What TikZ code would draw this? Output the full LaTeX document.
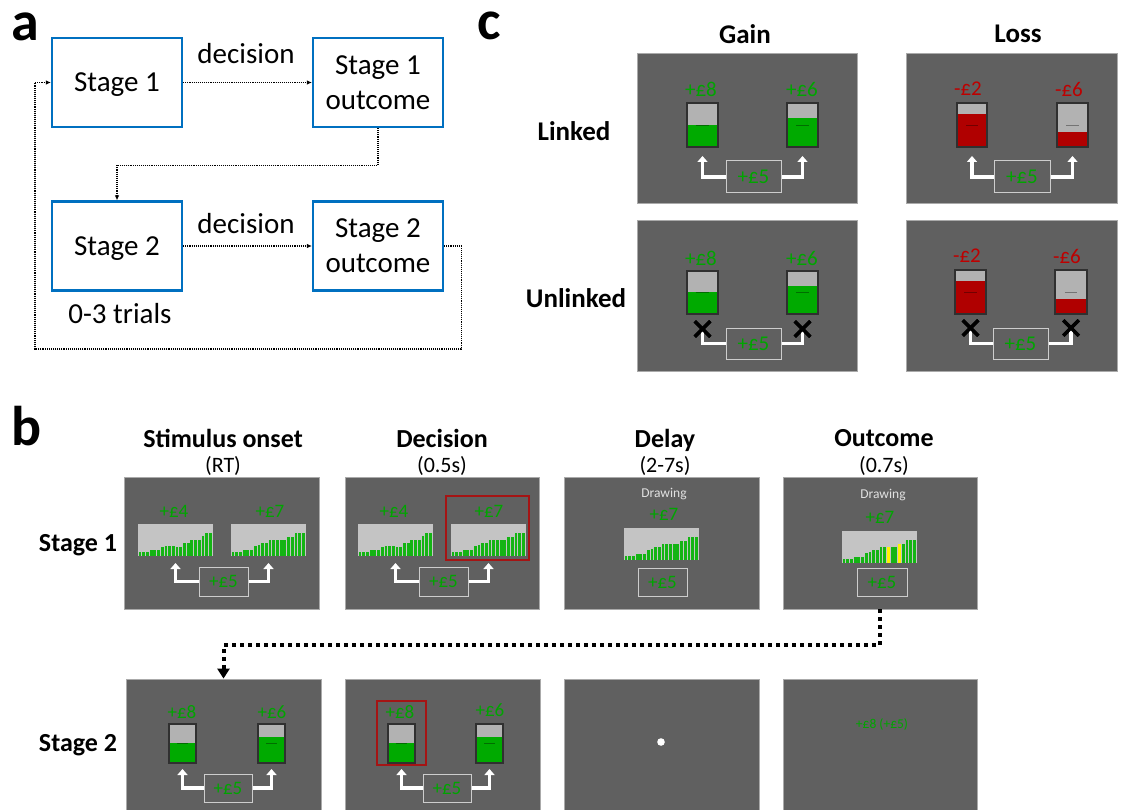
\documentclass[tikz,border=0pt]{standalone}
\usepackage{fontspec}
\setmainfont{Carlito}
\usetikzlibrary{arrows.meta,shapes.misc}

\definecolor{stageblue}{RGB}{0,112,192}
\definecolor{scrgray}{RGB}{96,96,96}
\definecolor{scredge}{RGB}{170,170,170}
\definecolor{boxedge}{RGB}{205,205,205}
\definecolor{gaintext}{RGB}{0,165,0}
\definecolor{losstext}{RGB}{190,0,0}
\definecolor{gainfill}{RGB}{0,170,0}
\definecolor{lossfill}{RGB}{176,0,0}
\definecolor{tubegray}{RGB}{178,178,178}
\definecolor{tubeedge}{RGB}{48,48,48}
\definecolor{chartgray}{RGB}{196,196,196}
\definecolor{bargreen}{RGB}{20,180,20}
\definecolor{pickred}{RGB}{165,20,20}
\definecolor{drawtext}{RGB}{225,225,225}

% tube: name, x, y, width, height, level, colour
\newcommand{\drawtube}[7]{%
  \fill[tubegray] (#2,#3) rectangle ++(#4,#5);
  \fill[#7] (#2,#6) rectangle (#2+#4,#3+#5);
  \draw[tubeedge, line width=1.4pt] (#2,#3) rectangle ++(#4,#5);
  \draw[black, opacity=0.35, line width=0.8pt] (#2+0.3*#4,#3+0.5*#5) -- (#2+0.7*#4,#3+0.5*#5);
  \coordinate (#1) at (#2+0.5*#4,#3+#5);}

% bar chart: name, x, y, list of heights (a macro)
\newcommand{\drawchart}[4]{%
  \fill[chartgray] (#2,#3) rectangle ++(75,32);
  \foreach \h [count=\i from 0] in #4
    \fill[bargreen] (#2+0.6+\i*3.7,#3+32) rectangle ++(2.8,-\h);
  \coordinate (#1) at (#2+37.5,#3+32);}

\newcommand{\lowbars}{4,4,4,6,6,6,9,10,10,10,9,9,13,13,16,16,16,20,23,23}
\newcommand{\highbars}{4,4,4,6,6,6,10,11,13,13,16,16,16,16,16,19,19,23,23,23}

\begin{document}
\begin{tikzpicture}[x=1pt,y=-1pt,
    stagebox/.style={draw=stageblue, line width=2.2pt, minimum width=130pt,
      minimum height=89pt, inner sep=0pt, align=center, text depth=0pt,
      font=\fontsize{29}{35}\selectfont},
    flow/.style={densely dotted, line width=1.1pt, -{Latex[length=5pt,width=4.5pt]}},
    screen/.style={fill=scrgray, draw=scredge, line width=0.8pt, inner sep=0pt},
    valbox/.style={draw=boxedge, line width=1pt, inner sep=0pt, text=gaintext},
    link/.style={draw=white, line width=3.5pt, -{Triangle[width=10pt,length=6pt]}},
    nolink/.style={draw=white, line width=3.5pt},
    cross/.style={cross out, draw=black, line width=3.5pt, minimum size=12pt, inner sep=0pt},
    pick/.style={draw=pickred, line width=2pt},
    head/.style={font=\bfseries\fontsize{27}{31}\selectfont},
    sub/.style={font=\fontsize{22}{26}\selectfont},
    letter/.style={font=\bfseries\fontsize{56}{60}\selectfont, anchor=base west, inner sep=0pt}]
\clip (0,0) rectangle (1121,810);
\fill[white] (0,0) rectangle (1121,810);

% panel a
\node[letter] (la) at (11,41) {a};
\node[stagebox] (st1) at (117,82.5) {Stage 1};
\node[stagebox] (out1) at (378,82.5) {Stage 1\\outcome};
\node[stagebox] (st2) at (117,246) {Stage 2};
\node[stagebox] (out2) at (378,246) {Stage 2\\outcome};
\node[font=\fontsize{29}{35}\selectfont] (dec1) at (246,54) {decision};
\node[font=\fontsize{29}{35}\selectfont] (dec2) at (246,224) {decision};
\node[font=\fontsize{29}{35}\selectfont] (trials) at (120,314) {0-3 trials};
\coordinate (back) at (35,349);
\draw[flow] (st1) -- (out1);
\draw[flow] (out1.south) -- ++(0,37) -| (st2.north);
\draw[flow] (st2) -- (out2);
\draw[flow] (out2.east) -- ++(17,0) |- (back) |- (st1.west);

% panel c
\node[letter] (lc) at (477,40) {c};
\node[head] (gain) at (745,34) {Gain};
\node[head] (loss) at (1018,34) {Loss};
\node[head] (linked) at (574,131) {Linked};
\node[head] (unlinked) at (576,298) {Unlinked};

\node[screen, minimum width=220pt, minimum height=150pt] (gainlk) at (747,128) {};
\node[screen, minimum width=211pt, minimum height=150pt] (losslk) at (1011.5,128) {};
\node[screen, minimum width=220pt, minimum height=151pt] (gainul) at (747,295.5) {};
\node[screen, minimum width=211pt, minimum height=151pt] (lossul) at (1011.5,295.5) {};

\begin{scope}[font=\fontsize{21}{24}\selectfont]
  % gain, linked
  \node[text=gaintext] (gl8) at (701,89) {+£8};
  \node[text=gaintext] (gl6) at (802,89) {+£6};
  \drawtube{gll}{687}{103}{31}{44}{125}{gainfill}
  \drawtube{glr}{787}{103}{31}{44}{118}{gainfill}
  \node[valbox, minimum width=55pt, minimum height=32pt] (gl5) at (753.5,177) {+£5};
  \draw[link] (gl5.west) -| ([yshift=-9pt]gll);
  \draw[link] (gl5.east) -| ([yshift=-9pt]glr);
  % loss, linked
  \node[text=losstext] (ll2) at (968,89) {-£2};
  \node[text=losstext] (ll6) at (1069,89) {-£6};
  \drawtube{lll}{957}{103}{30}{44}{114}{lossfill}
  \drawtube{llr}{1057}{103}{31}{44}{132}{lossfill}
  \node[valbox, minimum width=56pt, minimum height=32pt] (ll5) at (1022,177) {+£5};
  \draw[link] (ll5.west) -| ([yshift=-9pt]lll);
  \draw[link] (ll5.east) -| ([yshift=-9pt]llr);
  % gain, unlinked
  \node[text=gaintext] (gu8) at (701,258) {+£8};
  \node[text=gaintext] (gu6) at (802,258) {+£6};
  \drawtube{gul}{687}{271}{31}{43}{292}{gainfill}
  \drawtube{gur}{787}{271}{31}{43}{286}{gainfill}
  \node[valbox, minimum width=55pt, minimum height=31pt] (gu5) at (753.5,343.5) {+£5};
  \node[cross] (gux1) at ([yshift=-15pt]gul) {};
  \node[cross] (gux2) at ([yshift=-15pt]gur) {};
  \draw[nolink] (gu5.west) -| (gux1.center);
  \draw[nolink] (gu5.east) -| (gux2.center);
  \node[cross] at (gux1) {};
  \node[cross] at (gux2) {};
  % loss, unlinked
  \node[text=losstext] (lu2) at (967,256) {-£2};
  \node[text=losstext] (lu6) at (1067,256) {-£6};
  \drawtube{lul}{955}{270}{31}{44}{281}{lossfill}
  \drawtube{lur}{1055}{270}{32}{44}{299}{lossfill}
  \node[valbox, minimum width=55pt, minimum height=31pt] (lu5) at (1020.5,343.5) {+£5};
  \node[cross] (lux1) at ([yshift=-14pt]lul) {};
  \node[cross] (lux2) at ([yshift=-14pt]lur) {};
  \draw[nolink] (lu5.west) -| (lux1.center);
  \draw[nolink] (lu5.east) -| (lux2.center);
  \node[cross] at (lux1) {};
  \node[cross] at (lux2) {};
\end{scope}

% panel b
\node[letter] (lb) at (11,445) {b};
\node[head, font=\bfseries\fontsize{26}{30}\selectfont] (hon) at (223,438) {Stimulus onset};
\node[head, font=\bfseries\fontsize{26}{30}\selectfont] (hdc) at (442,438) {Decision};
\node[head, font=\bfseries\fontsize{26}{30}\selectfont] (hdl) at (665,440) {Delay};
\node[head, font=\bfseries\fontsize{26}{30}\selectfont] (hoc) at (884,438) {Outcome};
\node[sub] (ton) at (223,466) {(RT)};
\node[sub] (tdc) at (442,466) {(0.5s)};
\node[sub] (tdl) at (665,466) {(2-7s)};
\node[sub] (toc) at (884,466) {(0.7s)};
\node[head, font=\bfseries\fontsize{26}{30}\selectfont, anchor=base] (row1) at (78,551) {Stage 1};
\node[head, font=\bfseries\fontsize{26}{30}\selectfont, anchor=base] (row2) at (78,751) {Stage 2};

\node[screen, minimum width=195pt, minimum height=132pt] (on1) at (221.5,543) {};
\node[screen, minimum width=194pt, minimum height=132pt] (dc1) at (442,543) {};
\node[screen, minimum width=195pt, minimum height=132pt] (dl1) at (661.5,543) {};
\node[screen, minimum width=194pt, minimum height=132pt] (oc1) at (880,543) {};
\node[screen, minimum width=195pt, minimum height=141pt] (on2) at (223.5,749.5) {};
\node[screen, minimum width=195pt, minimum height=141pt] (dc2) at (442.5,749.5) {};
\node[screen, minimum width=195pt, minimum height=141pt] (dl2) at (661.5,749.5) {};
\node[screen, minimum width=194pt, minimum height=141pt] (oc2) at (880,749.5) {};

\draw[line width=4pt, dash pattern=on 4pt off 4pt, -{Triangle[width=12pt,length=10pt]}]
  (oc1.south) -- ++(0,36) -| (on2.north);

\begin{scope}[font=\fontsize{19}{22}\selectfont]
  % stage 1, onset
  \node[text=gaintext] (on1a) at (174,511) {+£4};
  \node[text=gaintext] (on1b) at (270,511) {+£7};
  \drawchart{on1l}{138}{524}{\lowbars}
  \drawchart{on1r}{231}{524}{\highbars}
  \node[valbox, minimum width=49pt, minimum height=29pt] (on15) at (223.5,581.5) {+£5};
  \draw[link] (on15.west) -| ([yshift=-7pt]on1l);
  \draw[link] (on15.east) -| ([yshift=-7pt]on1r);
  % stage 1, decision
  \node[text=gaintext] (dc1a) at (394,511) {+£4};
  \node[text=gaintext] (dc1b) at (489,511) {+£7};
  \drawchart{dc1l}{358}{524}{\lowbars}
  \drawchart{dc1r}{451}{524}{\highbars}
  \draw[pick] (446,496) rectangle (529,560);
  \node[valbox, minimum width=49pt, minimum height=29pt] (dc15) at (443.5,581.5) {+£5};
  \draw[link] (dc15.west) -| ([yshift=-7pt]dc1l);
  \draw[link] (dc15.east) -| ([yshift=-7pt]dc1r);
  % stage 1, delay
  \node[text=drawtext, font=\fontsize{13.5}{16}\selectfont] (dl1d) at (664,494) {Drawing};
  \node[text=gaintext] (dl1b) at (664,514) {+£7};
  \drawchart{dl1c}{624}{528}{\highbars}
  \node[valbox, minimum width=49pt, minimum height=28pt] (dl15) at (662.5,582) {+£5};
  % stage 1, outcome
  \node[text=drawtext, font=\fontsize{13.5}{16}\selectfont] (oc1d) at (883,495) {Drawing};
  \node[text=gaintext] (oc1b) at (880,517) {+£7};
  \drawchart{oc1c}{842}{531}{\highbars}
  \foreach \i/\h in {12/16, 15/19}
    \fill[yellow] (842.6+\i*3.7,563) rectangle ++(2.8,-\h);
  \node[valbox, minimum width=50pt, minimum height=28pt] (oc15) at (882,582) {+£5};

  % stage 2, onset
  \node[text=gaintext] (on2a) at (182,712) {+£8};
  \node[text=gaintext] (on2b) at (272,712) {+£6};
  \drawtube{on2l}{169}{724}{27}{39}{743}{gainfill}
  \drawtube{on2r}{258}{724}{27}{39}{737}{gainfill}
  \node[valbox, minimum width=48pt, minimum height=28pt] (on25) at (228,788) {+£5};
  \draw[link] (on25.west) -| ([yshift=-6pt]on2l);
  \draw[link] (on25.east) -| ([yshift=-6pt]on2r);
  % stage 2, decision
  \node[text=gaintext] (dc2a) at (400,712) {+£8};
  \node[text=gaintext] (dc2b) at (490,710) {+£6};
  \drawtube{dc2l}{388}{724}{27}{39}{743}{gainfill}
  \drawtube{dc2r}{476}{724}{27}{39}{737}{gainfill}
  \draw[pick] (377,701) rectangle (426,765);
  \node[valbox, minimum width=48pt, minimum height=28pt] (dc25) at (447,788) {+£5};
  \draw[link] (dc25.west) -| ([yshift=-6pt]dc2l);
  \draw[link] (dc25.east) -| ([yshift=-6pt]dc2r);
  % stage 2, delay
  \fill[white] (661,742) circle (3.8);
  % stage 2, outcome
  \node[text=gaintext, font=\fontsize{13.5}{16}\selectfont] (oc2t) at (882,724) {+£8 (+£5)};
\end{scope}
\end{tikzpicture}
\end{document}
